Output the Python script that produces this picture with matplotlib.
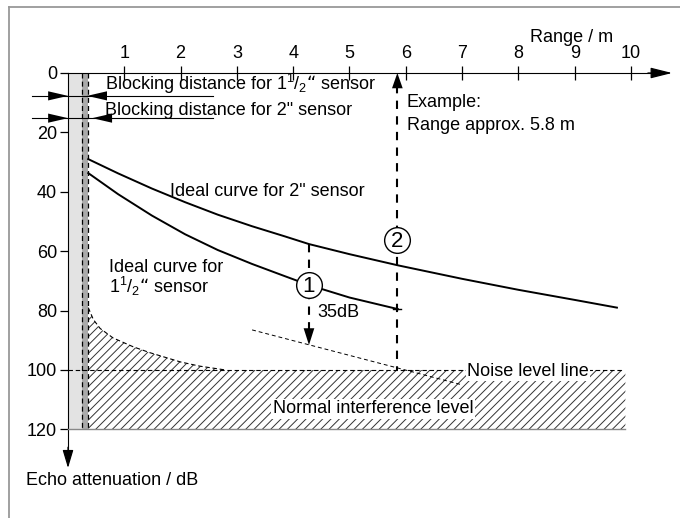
import numpy as np
import matplotlib.pyplot as plt
from matplotlib.lines import Line2D

plt.rcParams['font.family'] = ['Liberation Sans', 'DejaVu Sans']
plt.rcParams['mathtext.default'] = 'regular'
plt.rcParams['hatch.linewidth'] = 0.7
plt.rcParams['hatch.color'] = '#333333'

# values: range in m, echo attenuation in dB
x_ticks = [1, 2, 3, 4, 5, 6, 7, 8, 9, 10]
y_ticks = [0, 20, 40, 60, 80, 100, 120]

range_2in = [0.36, 0.89, 1.49, 2.08, 2.66, 3.27, 3.85, 4.28, 5.0, 5.87, 7.0, 8.0, 9.0, 9.75]
db_2in = [29.0, 33.8, 38.9, 43.5, 47.7, 51.6, 55.0, 57.6, 61.0, 64.8, 69.3, 73.0, 76.4, 79.0]

range_15in = [0.36, 0.89, 1.49, 2.08, 2.66, 3.27, 3.85, 4.28, 5.0, 5.86]
db_15in = [33.7, 40.8, 48.0, 54.3, 59.6, 64.3, 68.4, 71.4, 75.6, 79.5]

range_clutter = [0.36, 0.45, 0.57, 0.8, 1.16, 1.46, 2.0, 2.34, 2.8, 9.9]
db_clutter = [79.0, 83.0, 86.0, 89.2, 92.2, 94.2, 97.3, 98.7, 100.0, 100.0]

range_slope = [3.27, 7.0]
db_slope = [86.5, 105.0]

noise_db = 100
max_db = 120
block_light = 0.24
block_dark = 0.36
example_range = 5.85
diff_range = 4.28
diff_top, diff_bottom = 57.6, 91.6
circle1 = (4.28, 71.4)
circle2 = (5.84, 56.2)

fig = plt.figure(figsize=(6.8, 5.18), dpi=100)
ax = fig.add_axes([0, 0, 1, 1])
# map data to pixels: x=0 at 68 px, 56.3 px per m; y=0 at 73 px, 2.97 px per dB
ax.set_xlim(-68 / 56.3, (680 - 68) / 56.3)
ax.set_ylim((518 - 73) / 2.97, -73 / 2.97)

fs = 13
k = 'black'

# axes with ticks
for s in ['bottom', 'right']:
    ax.spines[s].set_visible(False)
ax.spines['left'].set_position(('data', 0))
ax.spines['top'].set_position(('data', 0))
ax.spines['left'].set_bounds(0, 128)
ax.spines['top'].set_bounds(0, 10.4)
ax.xaxis.tick_top()
ax.set_xticks(x_ticks)
ax.set_yticks(y_ticks)
ax.tick_params(axis='x', direction='inout', length=10, width=0.9, pad=3, labelsize=fs)
ax.tick_params(axis='y', direction='out', length=6, width=0.9, pad=2, labelsize=fs)
ax.annotate('', xy=(10.73, 0), xytext=(10.3, 0),
            arrowprops=dict(arrowstyle='-|>,head_length=1.2,head_width=0.3', mutation_scale=11,
                            color=k, lw=0.9, shrinkA=0, shrinkB=0))
ax.annotate('', xy=(0, 133), xytext=(0, 126),
            arrowprops=dict(arrowstyle='-|>,head_length=1.0,head_width=0.3', mutation_scale=11,
                            color=k, lw=0.9, shrinkA=0, shrinkB=0))

# frame corner
fig.add_artist(Line2D([9 / 680, 1], [1 - 7 / 518, 1 - 7 / 518], color='#999999', lw=1.3))
fig.add_artist(Line2D([9 / 680, 9 / 680], [0, 1 - 7 / 518], color='#999999', lw=1.3))

# blocking distance bars
ax.add_patch(plt.Rectangle((0, 0), block_light, max_db, fc='#e3e3e3', ec='none', zorder=1))
ax.add_patch(plt.Rectangle((block_light, 0), block_dark - block_light, max_db, fc='#aaaaaa', ec='none', zorder=1))
for xb in [block_light, block_dark]:
    ax.plot([xb, xb], [0, max_db], color=k, lw=0.9, dashes=(4, 2.5), zorder=3)

# interference region
ax.fill_between(range_clutter, db_clutter, max_db, facecolor='white', hatch='////', lw=0, zorder=1.5)
ax.plot(range_clutter[:9], db_clutter[:9], color=k, lw=0.8, dashes=(4, 2.5), zorder=3)
ax.plot([0, 9.86], [noise_db, noise_db], color=k, lw=0.8, dashes=(4, 2.5), zorder=3)
ax.plot([0, 9.9], [max_db, max_db], color='#888888', lw=1, zorder=3)
ax.plot(range_slope, db_slope, color=k, lw=0.7, dashes=(4, 3), zorder=3)

# ideal curves
ax.plot(range_2in, db_2in, color=k, lw=1.4, zorder=4)
ax.plot(range_15in, db_15in, color=k, lw=1.4, zorder=4)

# example and 35 dB markers
ax.plot([example_range, example_range], [4, noise_db], color=k, lw=1.5, dashes=(4, 3.5), zorder=4)
ax.annotate('', xy=(example_range, 0), xytext=(example_range, 5),
            arrowprops=dict(arrowstyle='-|>,head_length=1.0,head_width=0.35', mutation_scale=11,
                            color=k, lw=0, shrinkA=0, shrinkB=0), zorder=5)
ax.plot([diff_range, diff_range], [diff_top, diff_bottom - 3], color=k, lw=1.5, dashes=(4, 3.5), zorder=4)
ax.annotate('', xy=(diff_range, diff_bottom), xytext=(diff_range, diff_bottom - 5),
            arrowprops=dict(arrowstyle='-|>,head_length=1.1,head_width=0.35', mutation_scale=11,
                            color=k, lw=0, shrinkA=0, shrinkB=0), zorder=5)
ax.plot([example_range - 0.07, example_range + 0.07], [79.5, 79.5], color=k, lw=1, zorder=4)

for (cx, cy), num in [(circle1, '1'), (circle2, '2')]:
    ax.plot(cx, cy, 'o', ms=18.5, mfc='white', mec=k, mew=1, zorder=6)
    ax.text(cx, cy + 0.5, num, fontsize=16, ha='center', va='center', zorder=7)

# blocking distance arrows
for yb, xtip in [(7.7, 0.34), (15.2, 0.43)]:
    ax.plot([-0.64, 2.57], [yb, yb], color=k, lw=0.8, zorder=5)
    ax.annotate('', xy=(0, yb), xytext=(-0.4, yb),
                arrowprops=dict(arrowstyle='-|>,head_length=1.3,head_width=0.3', mutation_scale=11,
                                color=k, lw=0, shrinkA=0, shrinkB=0), zorder=5)
    ax.annotate('', xy=(xtip, yb), xytext=(xtip + 0.4, yb),
                arrowprops=dict(arrowstyle='-|>,head_length=1.3,head_width=0.3', mutation_scale=11,
                                color=k, lw=0, shrinkA=0, shrinkB=0), zorder=5)

# labels
ax.text(0.66, 5.7, 'Blocking distance for 1$^1$/$_2$\u201c sensor', fontsize=fs, va='baseline', zorder=6)
ax.text(0.66, 14.1, 'Blocking distance for 2" sensor', fontsize=fs, va='baseline', zorder=6)
ax.text(8.2, -10.4, 'Range / m', fontsize=fs, va='baseline')
ax.text(6.02, 11.4, 'Example:', fontsize=fs, va='baseline')
ax.text(6.02, 19.2, 'Range approx. 5.8 m', fontsize=fs, va='baseline')
ax.text(1.81, 41.4, 'Ideal curve for 2" sensor', fontsize=fs, va='baseline')
ax.text(0.73, 67, 'Ideal curve for', fontsize=fs, va='baseline')
ax.text(0.73, 74, '1$^1$/$_2$\u201c sensor', fontsize=fs, va='baseline')
ax.text(4.42, 82.2, '35dB', fontsize=fs, va='baseline')
ax.text(7.09, 102, 'Noise level line', fontsize=fs, va='baseline', zorder=6,
        bbox=dict(fc='white', ec='none', pad=1))
ax.text(3.64, 114.5, 'Normal interference level', fontsize=fs, va='baseline', zorder=6,
        bbox=dict(fc='white', ec='none', pad=1))
ax.text(-0.75, 138.7, 'Echo attenuation / dB', fontsize=fs, va='baseline')

fig.savefig('out.png', dpi=100)
